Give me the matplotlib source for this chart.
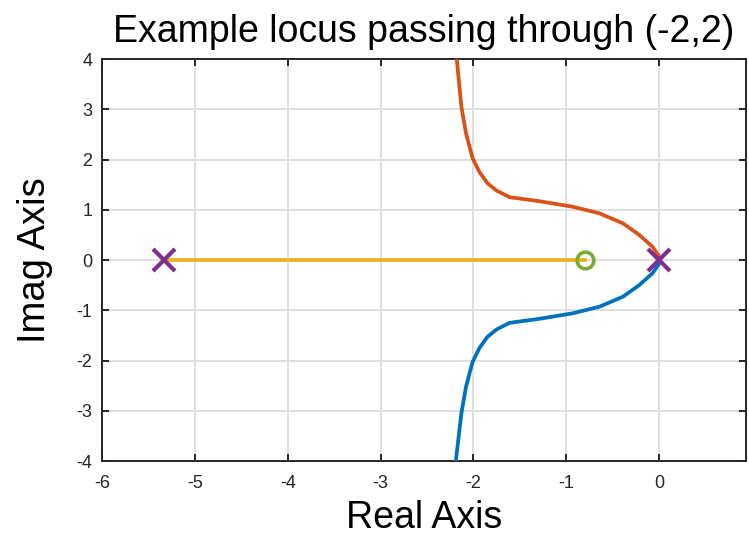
"""Root locus example passing through (-2,2), MATLAB-style look."""

import matplotlib

matplotlib.use("Agg")
import matplotlib.pyplot as plt

plt.rcParams["font.family"] = ["Liberation Sans", "DejaVu Sans"]
plt.rcParams["axes.unicode_minus"] = False

# upper branch, starts at double pole in 0
upper_re = [0.0, 0.0, -0.07, -0.215, -0.39, -0.645, -0.93, -1.29, -1.61,
            -1.75, -1.85, -1.935, -2.01, -2.08, -2.13, -2.18]
upper_im = [0.0, 0.07, 0.26, 0.50, 0.73, 0.93, 1.06, 1.17, 1.25,
            1.38, 1.53, 1.75, 2.03, 2.52, 3.05, 4.0]

# lower branch, mirror image
lower_re = [0.0, 0.0, -0.07, -0.215, -0.39, -0.645, -0.93, -1.29, -1.61,
            -1.75, -1.85, -1.935, -2.01, -2.08, -2.13, -2.19]
lower_im = [0.0, -0.07, -0.26, -0.50, -0.73, -0.93, -1.06, -1.17, -1.25,
            -1.38, -1.53, -1.75, -2.03, -2.52, -3.05, -4.0]

# real-axis branch from far pole to the zero
real_re = [-5.33, -0.8]
real_im = [0.0, 0.0]

poles_re = [-5.33, 0.0]
poles_im = [0.0, 0.0]
zeros_re = [-0.8]
zeros_im = [0.0]

xticks = [-6, -5, -4, -3, -2, -1, 0]
yticks = [-4, -3, -2, -1, 0, 1, 2, 3, 4]

BLUE = "#0072BD"
ORANGE = "#D95319"
YELLOW = "#EDB120"
PURPLE = "#7E2F8E"
GREEN = "#77AC30"
AXC = "#262626"

fig = plt.figure(figsize=(7.49, 5.38), dpi=100)
ax = fig.add_axes([0.1362, 0.1431, 0.8598, 0.7472])

lw = 2.7
ax.plot(lower_re, lower_im, color=BLUE, lw=lw, zorder=3)
ax.plot(upper_re, upper_im, color=ORANGE, lw=lw, zorder=3)
ax.plot(real_re, real_im, color=YELLOW, lw=lw, zorder=3)
ax.plot(zeros_re, zeros_im, "o", ms=12, mfc="none", mec=GREEN, mew=2.6, zorder=4)
ax.plot(poles_re, poles_im, "x", ms=16, mec=PURPLE, mew=3.0, zorder=5)

ax.set_xlim(-6, 0.935)
ax.set_ylim(-4, 4)
ax.set_xticks(xticks)
ax.set_yticks(yticks)
ax.grid(True, color="#DFDFDF", lw=1.4)
ax.set_axisbelow(True)

for s in ax.spines.values():
    s.set_color(AXC)
    s.set_linewidth(1.4)
ax.tick_params(direction="in", length=5, width=1.4, colors=AXC,
               labelsize=13, top=True, right=True)
ax.tick_params(axis="x", pad=10)
ax.tick_params(axis="y", pad=7)

ax.set_title("Example locus passing through (-2,2)", fontsize=27, pad=12)
ax.set_xlabel("Real Axis", fontsize=27, labelpad=6)
ax.set_ylabel("Imag Axis", fontsize=27.5, labelpad=17)

fig.savefig("out.png", dpi=100)
